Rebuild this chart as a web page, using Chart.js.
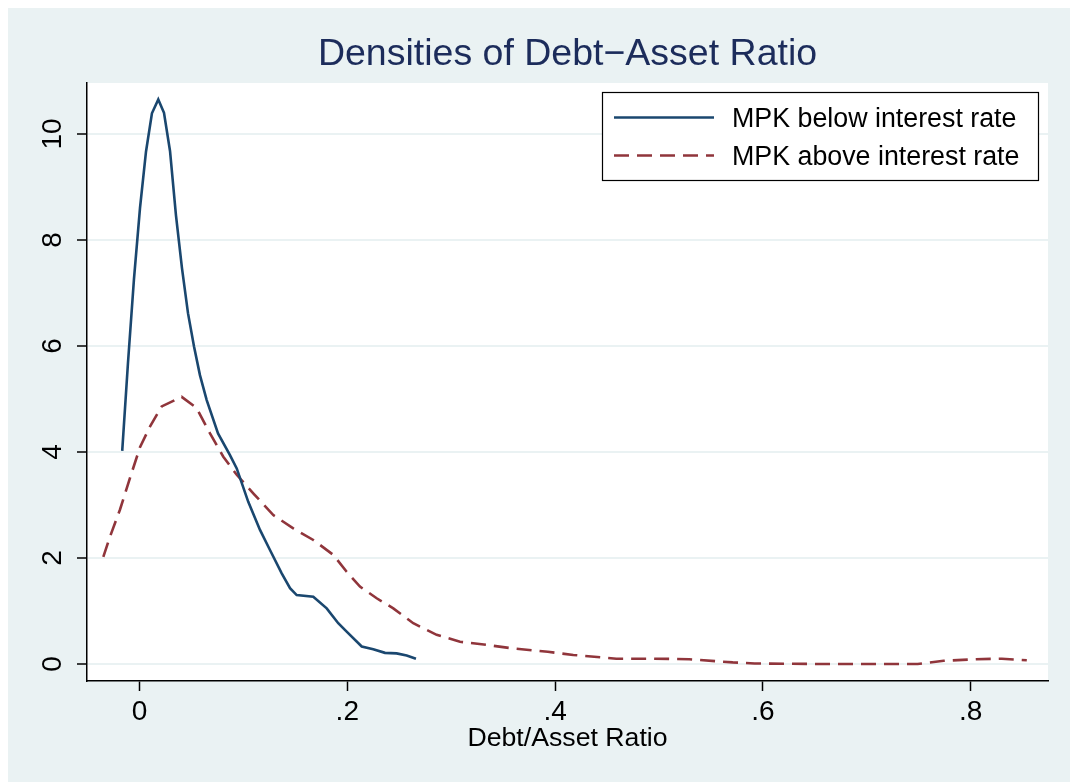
<!DOCTYPE html>
<html>
<head>
<meta charset="utf-8">
<script src="https://cdn.jsdelivr.net/npm/chart.js@4.4.1/dist/chart.umd.min.js"></script>
<style>
  html, body { margin: 0; padding: 0; background: #ffffff; }
  canvas { display: block; }
</style>
</head>
<body>
<canvas id="c" width="1070" height="782"></canvas>
<script>
// ---- Data ----
const chartTitle = "Densities of Debt\u2212Asset Ratio";
const xAxisTitle = "Debt/Asset Ratio";
const seriesLabels = ["MPK below interest rate", "MPK above interest rate"];

const belowX = [-0.0166, -0.0111, -0.0053, 0.0005, 0.0063, 0.012, 0.0181, 0.0236, 0.0294, 0.0351,
  0.0409, 0.0467, 0.0525, 0.0582, 0.0647, 0.0756, 0.0871, 0.0936, 0.1047, 0.116,
  0.1256, 0.1369, 0.1449, 0.1513, 0.1673, 0.1802, 0.1913, 0.1994, 0.2139, 0.225,
  0.2363, 0.2475, 0.2572, 0.2661];
const belowY = [4.02, 5.67, 7.26, 8.60, 9.67, 10.39, 10.65, 10.40, 9.68, 8.47,
  7.47, 6.62, 5.99, 5.45, 4.98, 4.35, 3.94, 3.69, 3.06, 2.53,
  2.15, 1.71, 1.43, 1.30, 1.27, 1.05, 0.77, 0.61, 0.33, 0.28,
  0.21, 0.20, 0.16, 0.10];

const aboveX = [-0.0348, -0.0284, -0.0188, -0.0091, 0.0005, 0.0101, 0.0214, 0.0406, 0.055, 0.0679,
  0.0807, 0.0936, 0.1095, 0.1288, 0.148, 0.1673, 0.1865, 0.1994, 0.2122, 0.2283,
  0.2443, 0.2635, 0.286, 0.3085, 0.3342, 0.3566, 0.393, 0.4175, 0.459, 0.4945,
  0.529, 0.571, 0.592, 0.65, 0.70, 0.749, 0.774, 0.805, 0.83, 0.854];
const aboveY = [2.02, 2.40, 2.91, 3.51, 4.09, 4.48, 4.86, 5.04, 4.83, 4.35,
  3.91, 3.57, 3.22, 2.81, 2.56, 2.34, 2.06, 1.74, 1.46, 1.24,
  1.05, 0.77, 0.55, 0.42, 0.36, 0.30, 0.23, 0.17, 0.10, 0.10,
  0.09, 0.03, 0.01, 0.0, 0.0, 0.0, 0.06, 0.09, 0.10, 0.07];

const xTicks = [0, 0.2, 0.4, 0.6, 0.8];
const xTickLabels = ["0", ".2", ".4", ".6", ".8"];
const yTicks = [0, 2, 4, 6, 8, 10];
const yTickLabels = ["0", "2", "4", "6", "8", "10"];

// ---- Styles ----
const FONT = "'Liberation Sans', Arial, Helvetica, sans-serif";
const BG = "#EAF2F3";
const NAVY = "#1a476f";
const MAROON = "#90353b";
const TITLE_COLOR = "#1c2c5b";

const toPoints = (xs, ys) => xs.map((x, i) => ({ x: x, y: ys[i] }));

const bgPlugin = {
  id: 'bgPlugin',
  beforeDraw(chart) {
    const { ctx, chartArea: a } = chart;
    ctx.save();
    ctx.fillStyle = '#ffffff';
    ctx.fillRect(0, 0, chart.width, chart.height);
    ctx.fillStyle = BG;
    ctx.fillRect(8, 8, chart.width - 8, chart.height - 8);
    ctx.fillStyle = '#ffffff';
    ctx.fillRect(a.left, a.top, a.right - a.left, a.bottom - a.top);
    // title
    ctx.fillStyle = TITLE_COLOR;
    ctx.font = "37.5px " + FONT;
    ctx.textAlign = 'center';
    ctx.textBaseline = 'middle';
    ctx.fillText(chartTitle, (a.left + a.right) / 2, 55);
    ctx.restore();
  }
};

const legendPlugin = {
  id: 'legendPlugin',
  afterDatasetsDraw(chart) {
    const { ctx } = chart;
    const bx = 602.5, by = 92.5, bw = 436, bh = 88;
    ctx.save();
    ctx.fillStyle = '#ffffff';
    ctx.fillRect(bx, by, bw, bh);
    ctx.strokeStyle = '#000000';
    ctx.lineWidth = 1.2;
    ctx.strokeRect(bx, by, bw, bh);
    const rows = [117.5, 155.5];
    chart.data.datasets.forEach((ds, i) => {
      ctx.beginPath();
      ctx.strokeStyle = ds.borderColor;
      ctx.lineWidth = ds.borderWidth;
      ctx.setLineDash(ds.borderDash || []);
      ctx.moveTo(614, rows[i]);
      ctx.lineTo(714, rows[i]);
      ctx.stroke();
      ctx.setLineDash([]);
      ctx.fillStyle = '#000000';
      ctx.font = "26.8px " + FONT;
      ctx.textAlign = 'left';
      ctx.textBaseline = 'middle';
      ctx.fillText(ds.label, 732, rows[i] + 2);
    });
    ctx.restore();
  }
};

new Chart(document.getElementById('c'), {
  type: 'scatter',
  data: {
    datasets: [
      {
        label: seriesLabels[0],
        data: toPoints(belowX, belowY),
        showLine: true,
        borderColor: NAVY,
        backgroundColor: NAVY,
        borderWidth: 2.6,
        pointRadius: 0,
        tension: 0,
        fill: false
      },
      {
        label: seriesLabels[1],
        data: toPoints(aboveX, aboveY),
        showLine: true,
        borderColor: MAROON,
        backgroundColor: MAROON,
        borderWidth: 2.6,
        borderDash: [15, 8],
        pointRadius: 0,
        tension: 0,
        fill: false
      }
    ]
  },
  options: {
    responsive: false,
    animation: false,
    devicePixelRatio: 1,
    layout: { padding: { left: 0, top: 83, right: 22, bottom: 0 } },
    plugins: {
      legend: { display: false },
      title: { display: false },
      tooltip: { enabled: false }
    },
    scales: {
      x: {
        type: 'linear',
        min: -0.0505,
        max: 0.8744,
        afterFit(scale) { scale.height = 101; },
        afterBuildTicks(scale) { scale.ticks = xTicks.map(v => ({ value: v })); },
        ticks: {
          autoSkip: false,
          maxRotation: 0,
          color: '#000000',
          padding: 4,
          font: { family: FONT, size: 28 },
          callback(value) {
            const i = xTicks.indexOf(value);
            return i >= 0 ? xTickLabels[i] : '';
          }
        },
        grid: {
          drawOnChartArea: false,
          drawTicks: true,
          tickLength: 10,
          tickColor: '#000000',
          tickWidth: 1.5
        },
        border: { display: true, color: '#000000', width: 1.5 },
        title: {
          display: true,
          text: xAxisTitle,
          color: '#000000',
          font: { family: FONT, size: 26.7 },
          padding: { top: 0, bottom: 27 }
        }
      },
      y: {
        type: 'linear',
        min: -0.321,
        max: 10.962,
        afterFit(scale) { scale.width = 87; },
        afterBuildTicks(scale) { scale.ticks = yTicks.map(v => ({ value: v })); },
        ticks: {
          autoSkip: false,
          minRotation: 90,
          maxRotation: 90,
          crossAlign: 'center',
          color: '#000000',
          padding: 8,
          font: { family: FONT, size: 28 },
          callback(value) {
            const i = yTicks.indexOf(value);
            return i >= 0 ? yTickLabels[i] : '';
          }
        },
        grid: {
          color: BG,
          lineWidth: 2,
          drawTicks: true,
          tickLength: 10,
          tickColor: '#000000',
          tickWidth: 1.5
        },
        border: { display: true, color: '#000000', width: 1.5 }
      }
    }
  },
  plugins: [bgPlugin, legendPlugin]
});
</script>
</body>
</html>
